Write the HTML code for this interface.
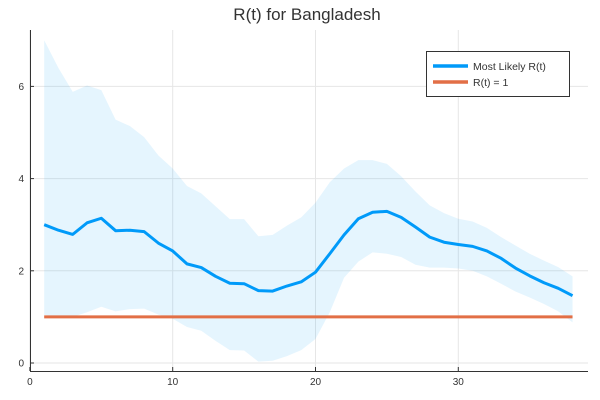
<!DOCTYPE html>
<html><head><meta charset="utf-8"><style>
body{margin:0;background:#fff;}
svg{display:block;font-family:"Liberation Sans",sans-serif;}
</style></head><body>
<svg id="chart" width="600" height="400">
<text x="307" y="20" text-anchor="middle" font-size="17" fill="#333">R(t) for Bangladesh</text>
<g id="grid"></g><g id="band"></g><g id="lines"></g><g id="axes"></g>
<g>
<rect x="426.5" y="51.5" width="143" height="45" fill="#fff" stroke="#333" stroke-width="1"/>
<line x1="433" y1="66" x2="468" y2="66" stroke="#009AF9" stroke-width="3.5"/>
<text x="473" y="70" font-size="10.5" fill="#333">Most Likely R(t)</text>
<line x1="433" y1="82" x2="468" y2="82" stroke="#E26F46" stroke-width="3.5"/>
<text x="473" y="86" font-size="10.5" fill="#333">R(t) = 1</text>
</g>
</svg>
<script>
const days=[1,2,3,4,5,6,7,8,9,10,11,12,13,14,15,16,17,18,19,20,21,22,23,24,25,26,27,28,29,30,31,32,33,34,35,36,37,38];
const mostLikely=[3.0,2.88,2.79,3.04,3.14,2.87,2.88,2.85,2.6,2.43,2.15,2.07,1.88,1.73,1.72,1.57,1.56,1.67,1.76,1.97,2.37,2.78,3.13,3.27,3.29,3.16,2.95,2.73,2.62,2.57,2.53,2.43,2.27,2.06,1.89,1.74,1.62,1.46];
const upper=[7.0,6.4,5.88,6.02,5.92,5.28,5.14,4.9,4.5,4.22,3.84,3.68,3.4,3.12,3.12,2.75,2.78,2.98,3.16,3.48,3.92,4.22,4.4,4.4,4.32,4.05,3.72,3.42,3.25,3.13,3.07,2.93,2.73,2.55,2.37,2.22,2.08,1.88];
const lower=[1.04,1.0,1.0,1.1,1.22,1.12,1.17,1.18,1.05,0.96,0.78,0.7,0.48,0.28,0.27,0.03,0.05,0.15,0.28,0.52,1.1,1.85,2.2,2.4,2.37,2.3,2.13,2.07,2.07,2.05,2.0,1.88,1.72,1.55,1.42,1.28,1.12,0.88];
const threshold=1;
const xTicks=[0,10,20,30];
const yTicks=[0,2,4,6];
const X=v=>29.9+v*14.28, Y=v=>363-v*46.1;
const NS="http://www.w3.org/2000/svg";
function mk(t,a,p){const e=document.createElementNS(NS,t);for(const k in a)e.setAttribute(k,a[k]);p.appendChild(e);return e;}
const grid=document.getElementById('grid'),axes=document.getElementById('axes'),band=document.getElementById('band'),lines=document.getElementById('lines');
xTicks.forEach(t=>{
 const g=mk('line',{x1:X(t),x2:X(t),y1:30,y2:371,stroke:'#e6e6e6','stroke-width':1},grid);
 
 
 mk('line',{x1:X(t),x2:X(t),y1:371,y2:367,stroke:'#333'},axes);
 const l=mk('text',{x:X(t),y:385,'text-anchor':'middle','font-size':10,fill:'#333'},axes);
 l.textContent=t;
 
 
});
yTicks.forEach(t=>{
 const g=mk('line',{x1:30,x2:588,y1:Y(t),y2:Y(t),stroke:'#e6e6e6','stroke-width':1},grid);
 
 
 mk('line',{x1:30,x2:34,y1:Y(t),y2:Y(t),stroke:'#333'},axes);
 const l=mk('text',{x:24,y:Y(t)+3.5,'text-anchor':'end','font-size':10,fill:'#333'},axes);
 l.textContent=t;
 
 
});
const xa=mk('line',{x1:30,x2:588,y1:371.5,y2:371.5,stroke:'#333'},axes);


const ya=mk('line',{x1:30.5,x2:30.5,y1:30,y2:371,stroke:'#333'},axes);


let pts=days.map((d,i)=>X(d)+','+Y(upper[i]));
for(let i=days.length-1;i>=0;i--)pts.push(X(days[i])+','+Y(lower[i]));
const b=mk('polygon',{points:pts.join(' '),fill:'#009AF9','fill-opacity':0.1},band);


const th=mk('polyline',{points:days.map(d=>X(d)+','+Y(threshold)).join(' '),fill:'none',stroke:'#E26F46','stroke-width':3},lines);


const ml=mk('polyline',{points:days.map((d,i)=>X(d)+','+Y(mostLikely[i])).join(' '),fill:'none',stroke:'#009AF9','stroke-width':3,'stroke-linejoin':'round'},lines);


</script>
</body></html>
